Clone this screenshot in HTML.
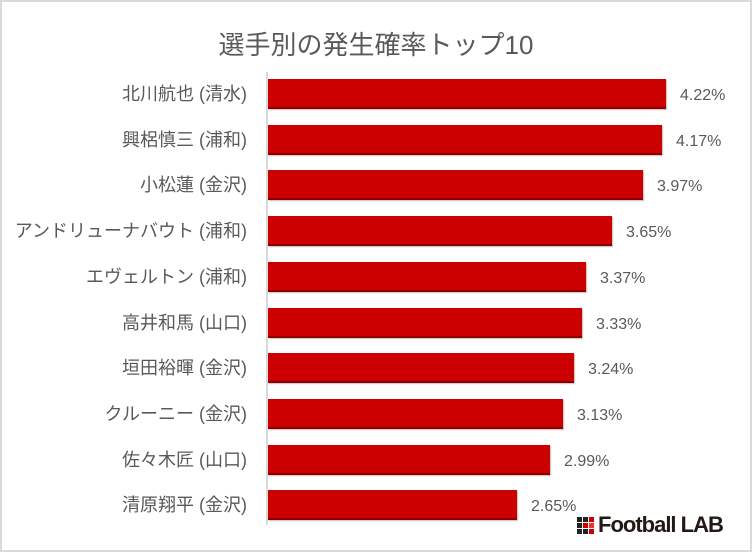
<!DOCTYPE html><html><head><meta charset="utf-8"><style>
body{margin:0;width:752px;height:552px;overflow:hidden;background:#fff;font-family:"Liberation Sans","Noto Sans CJK JP",sans-serif;color:#595959}
.f{position:absolute;left:0;top:0;width:748px;height:548px;border:2px solid #d9d9d9}
.t{position:absolute;top:25px;left:0;width:752px;text-align:center;font-size:26px}
.ax{position:absolute;left:266px;top:72px;width:2px;height:453px;background:#d9d9d9}
.l{position:absolute;right:505px;font-size:18px;white-space:nowrap;line-height:24px}
.b{position:absolute;left:268px;height:28px;background:#cc0000;border-bottom:2px solid #8e0000;box-shadow:1px 1px 1px rgba(0,0,0,.25)}
.v{position:absolute;font-size:16px;line-height:20px}
</style></head><body><div class="f"></div>
<div class="t">選手別の発生確率トップ10</div>
<div class="ax"></div>
<div id="c"></div>
<div style="position:absolute;left:577px;top:517px;display:grid;grid-template-columns:repeat(3,5px);gap:1px">
<i style="width:5px;height:5px;background:#222"></i><i style="width:5px;height:5px;background:#222"></i><i style="width:5px;height:5px;background:#c00"></i>
<i style="width:5px;height:5px;background:#222"></i><i style="width:5px;height:5px;background:#c00"></i><i style="width:5px;height:5px;background:#e33"></i>
<i style="width:5px;height:5px;background:#222"></i><i style="width:5px;height:5px;background:#222"></i><i style="width:5px;height:5px;background:#c00"></i></div>
<div style="position:absolute;left:598px;top:512px;font-size:22px;font-weight:bold;color:#231815;letter-spacing:-1px;line-height:26px">Football LAB</div>
<script>
var d=[["北川航也 (清水)",666,"4.22%"],["興梠慎三 (浦和)",662,"4.17%"],["小松蓮 (金沢)",643,"3.97%"],["アンドリューナバウト (浦和)",612,"3.65%"],["エヴェルトン (浦和)",586,"3.37%"],["高井和馬 (山口)",582,"3.33%"],["垣田裕暉 (金沢)",574,"3.24%"],["クルーニー (金沢)",563,"3.13%"],["佐々木匠 (山口)",550,"2.99%"],["清原翔平 (金沢)",517,"2.65%"]];
var h="";d.forEach(function(r,i){var c=94+i*45.7;
h+='<div class="l" style="top:'+(c-12)+'px">'+r[0]+'</div><div class="b" style="top:'+(c-15)+'px;width:'+(r[1]-268)+'px"></div><div class="v" style="top:'+(c-8)+'px;left:'+(r[1]+14)+'px">'+r[2]+'</div>';});
document.getElementById("c").innerHTML=h;
</script></body></html>
